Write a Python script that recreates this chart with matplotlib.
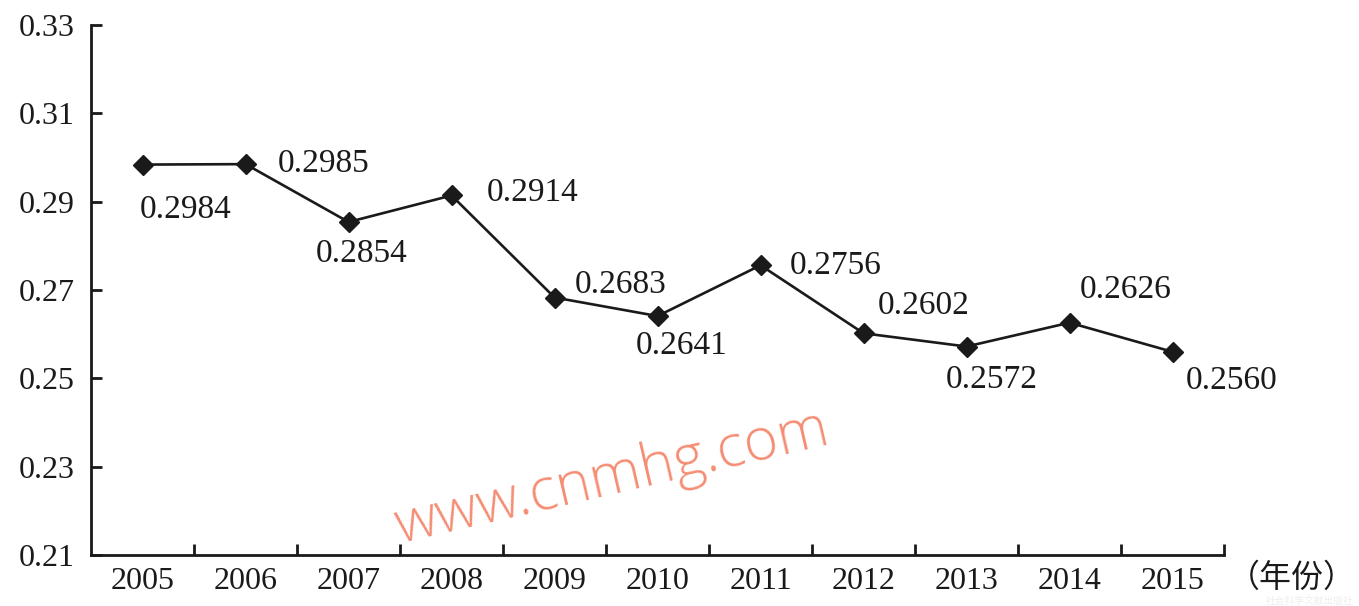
import matplotlib
matplotlib.use("Agg")
import matplotlib.pyplot as plt
from matplotlib.ticker import FixedLocator, NullFormatter

years = ["2005", "2006", "2007", "2008", "2009", "2010", "2011", "2012", "2013", "2014", "2015"]
values = [0.2984, 0.2985, 0.2854, 0.2914, 0.2683, 0.2641, 0.2756, 0.2602, 0.2572, 0.2626, 0.2560]
value_labels = ["0.2984", "0.2985", "0.2854", "0.2914", "0.2683", "0.2641", "0.2756", "0.2602", "0.2572", "0.2626", "0.2560"]
yticks = [0.21, 0.23, 0.25, 0.27, 0.29, 0.31, 0.33]
ytick_labels = ["0.21", "0.23", "0.25", "0.27", "0.29", "0.31", "0.33"]
label_offsets = [(43, -45), (78, 0), (13, -32), (81, 3), (66, 13), (24, -30),
                 (75, 0), (60, 28), (25, -33), (56, 33), (59, -29)]

serif = ["Liberation Serif", "DejaVu Serif"]
fig = plt.figure(figsize=(13.59, 6.06), dpi=100)
ax = fig.add_axes([0.067, 0.0842, 0.9007 - 0.067, 0.9587 - 0.0842])

x = list(range(len(years)))
ax.plot(x, values, color="#1a1a1a", lw=1.9, marker="D", ms=10, mfc="#1a1a1a", mec="#1a1a1a", zorder=3)

for xi, v, lab, off in zip(x, values, value_labels, label_offsets):
    ax.annotate(lab, (xi, v), xytext=off, textcoords="offset pixels",
                ha="center", va="center", fontsize=24, family=serif, color="#1a1a1a")

ax.set_xlim(-0.5, len(years) - 0.5)
ax.set_ylim(0.21, 0.33)
ax.set_yticks(yticks)
ax.set_yticklabels(ytick_labels, family=serif, fontsize=23, color="#1a1a1a")
ax.xaxis.set_major_locator(FixedLocator([i + 0.5 for i in range(len(years))]))
ax.xaxis.set_major_formatter(NullFormatter())
ax.set_xticks(x, minor=True)
ax.set_xticklabels(years, minor=True, family=serif, fontsize=23, color="#1a1a1a")
ax.tick_params(axis="x", which="major", direction="in", length=8, width=2, color="#1a1a1a")
ax.tick_params(axis="x", which="minor", length=0, pad=9)
ax.tick_params(axis="y", direction="in", length=8, width=2, color="#1a1a1a", pad=12)

for s in ["top", "right"]:
    ax.spines[s].set_visible(False)
for s in ["left", "bottom"]:
    ax.spines[s].set_linewidth(2)
    ax.spines[s].set_color("#1a1a1a")

fig.text(1228 / 1359, 1 - 578 / 606, "（年份）", fontsize=23, family=["Noto Sans CJK SC", "DejaVu Sans"],
         color="#1a1a1a", ha="left", va="center")
fig.text(612 / 1359, 1 - 478 / 606, "www.cnmhg.com", fontsize=42, family=["Open Sans", "DejaVu Sans"],
         fontweight="light", color="#F58D74", rotation=13, ha="center", va="center")
fig.text(1354 / 1359, 0.0, "社会科学文献出版社", fontsize=7, family=["Noto Sans CJK SC", "DejaVu Sans"],
         color="#eeeeee", ha="right", va="bottom")

fig.savefig("out.png", dpi=100)
